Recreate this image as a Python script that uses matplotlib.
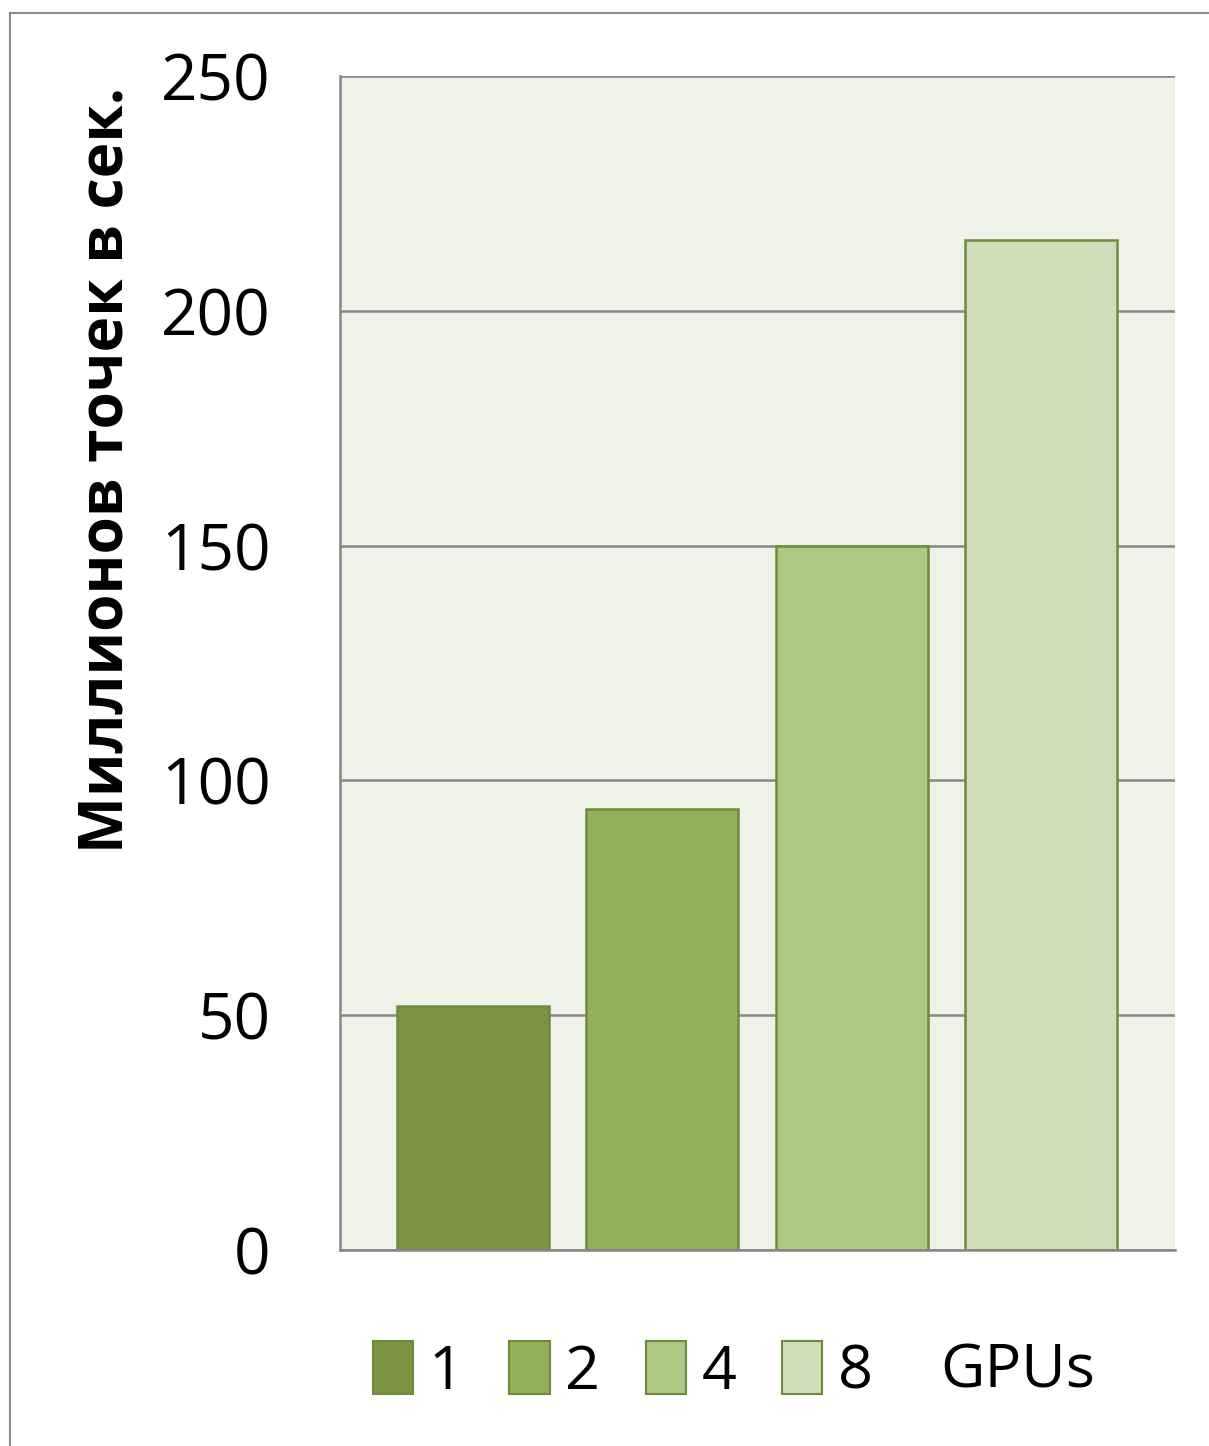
import matplotlib.pyplot as plt
from matplotlib.patches import Rectangle, Patch

# data
gpus = ["1", "2", "4", "8"]
points_per_sec = [52, 94, 150, 215]
bar_colors = ["#7a9343", "#92b056", "#aec886", "#cfddb8"]
y_ticks = [0, 50, 100, 150, 200, 250]

edge_color = "#6e8b3d"
grid_color = "#878787"

plt.rcParams["font.family"] = ["Open Sans", "DejaVu Sans"]

fig = plt.figure(figsize=(12.09, 14.46), dpi=100)

# outer chart border (only top and left are visible in the crop)
fig.patches.append(Rectangle((10 / 1209, -0.1), 1.5, 1 - 13 / 1446 + 0.1,
                             transform=fig.transFigure, fill=False,
                             edgecolor="#8c8c8c", linewidth=1.5))

ax = fig.add_axes([340 / 1209, 1 - 1250 / 1446, 835 / 1209, 1174 / 1446])
ax.set_facecolor("#eff2e9")

positions = list(range(len(gpus)))
ax.bar(positions, points_per_sec, width=0.802, color=bar_colors,
       edgecolor=edge_color, linewidth=1.8, zorder=3)

ax.set_xlim(-0.702, 3.707)
ax.set_ylim(0, 250)
ax.set_yticks(y_ticks)
ax.set_yticklabels([str(t) for t in y_ticks], fontsize=46)
ax.set_xticks([])
ax.tick_params(axis="y", length=0, pad=50)
ax.yaxis.grid(True, color=grid_color, linewidth=1.8, zorder=1)

for side in ["top", "right"]:
    ax.spines[side].set_visible(False)
for side in ["left", "bottom"]:
    ax.spines[side].set_color(grid_color)
    ax.spines[side].set_linewidth(1.8)
    ax.spines[side].set_zorder(4)

fig.text(107 / 1209, 1 - 470 / 1446, "Миллионов точек в сек.", rotation=90,
         fontsize=43.5, fontweight="bold", ha="center", va="center")

handles = [Patch(facecolor=c, edgecolor=edge_color, linewidth=1.5) for c in bar_colors]
fig.legend(handles, gpus, loc="center left", bbox_to_anchor=(373 / 1209, 1 - 1372 / 1446),
           ncol=4, frameon=False, fontsize=44, handlelength=0.66, handleheight=0.95,
           handletextpad=0.25, columnspacing=0.75, borderpad=0, borderaxespad=0)
fig.text(940 / 1209, 1 - 1372 / 1446, "GPUs", fontsize=44, ha="left", va="center")

fig.savefig("out.png", dpi=100)
